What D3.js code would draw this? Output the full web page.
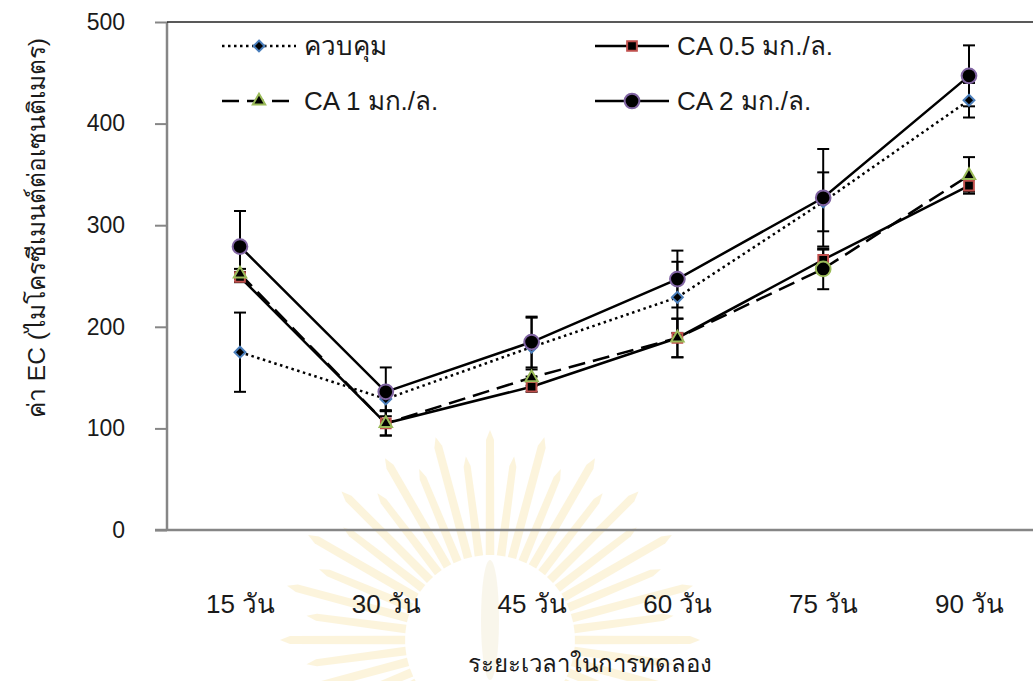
<!DOCTYPE html>
<html>
<head>
<meta charset="utf-8">
<script src="https://cdn.jsdelivr.net/npm/d3@7"></script>
<style>
  body { margin: 0; background: #fff; }
  svg { display: block; }
  text { font-family: "Liberation Sans", Arial, sans-serif; fill: #1a1a1a; }
</style>
</head>
<body>
<svg id="chart" width="1033" height="681"></svg>
<script>
// Sampling days (x categories) and value axis ticks
const days = ["15 วัน", "30 วัน", "45 วัน", "60 วัน", "75 วัน", "90 วัน"];
const yTicks = [0, 100, 200, 300, 400, 500];

// EC means and error-bar half-widths for each treatment
const seriesNames = ["ควบคุม", "CA 0.5 มก./ล.", "CA 1 มก./ล.", "CA 2 มก./ล."];
const controlMean = [175, 129, 180, 229, 323, 423];
const controlErr  = [39, 11, 29, 35, 29, 17];
const ca05Mean    = [249, 105, 141, 189, 266, 339];
const ca05Err     = [5, 12, 5, 19, 10, 6];
const ca1Mean     = [252, 105, 150, 189, 257, 349];
const ca1Err      = [5, 12, 8, 19, 20, 18];
const ca2Mean     = [279, 136, 185, 247, 327, 447];
const ca2Err      = [35, 24, 25, 28, 48, 30];

const svg = d3.select("#chart");

// Plot frame
const plotLeft = 167, plotBottom = 530, plotTop = 22;
const x = d3.scalePoint().domain(days).range([240, 240 + 5 * 145.8]);
const y = d3.scaleLinear().domain([0, 500]).range([plotBottom, plotTop]);

// Faint emblem watermark behind the chart
const wm = svg.append("g").attr("transform", "translate(490,640)").attr("opacity", 0.22);
const rays = d3.range(48);
wm.selectAll("path.ray").data(rays).join("path")
  .attr("class", "ray")
  .attr("d", i => {
    const a = (i / rays.length) * 2 * Math.PI;
    const w = 0.05;
    const r0 = 85, r1 = 200 + (i % 2 ? -25 : 0);
    const p = (r, t) => [r * Math.sin(t), -r * Math.cos(t)];
    const pts = [p(r0, a - w), p(r1, a - w * 0.4), p(r1 + 10, a), p(r1, a + w * 0.4), p(r0, a + w)];
    return d3.line()(pts) + "Z";
  })
  .attr("fill", "#f2cf63");
wm.append("ellipse").attr("cx", 0).attr("cy", -20).attr("rx", 9).attr("ry", 60)
  .attr("fill", "#e8d9a8");

// Series configuration
const series = [
  { name: seriesNames[0], mean: controlMean, err: controlErr, dash: "2.5,3.5",
    marker: () => "diamond", stroke: "#4a7ebb" },
  { name: seriesNames[1], mean: ca05Mean, err: ca05Err, dash: null,
    marker: () => "square", stroke: "#c0504d" },
  { name: seriesNames[2], mean: ca1Mean, err: ca1Err, dash: "17,8",
    marker: i => (i === 4 ? "circle" : "triangle"), stroke: "#9bbb59" },
  { name: seriesNames[3], mean: ca2Mean, err: ca2Err, dash: null,
    marker: () => "circle", stroke: "#8064a2" }
];

const symbolPath = {
  diamond: d3.symbol().type(d3.symbolDiamond2).size(75)(),
  square: d3.symbol().type(d3.symbolSquare2).size(120)(),
  triangle: d3.symbol().type(d3.symbolTriangle2).size(110)(),
  circle: d3.symbol().type(d3.symbolCircle).size(170)()
};

// Axes
const yAxis = svg.append("g").attr("transform", `translate(${plotLeft},0)`)
  .call(d3.axisLeft(y).tickValues(yTicks).tickSize(12).tickPadding(30));
yAxis.select(".domain").attr("stroke", "#868686").attr("stroke-width", 2.5)
  .attr("d", `M0,${plotTop}V${plotBottom}`);
yAxis.selectAll(".tick line").attr("stroke", "#868686").attr("stroke-width", 2);
yAxis.selectAll(".tick text").attr("font-size", 23).attr("fill", "#1a1a1a")
  .attr("font-family", "Liberation Sans, Arial, sans-serif");

// Bottom axis line and top border
svg.append("line").attr("x1", 155).attr("x2", 1033).attr("y1", plotBottom).attr("y2", plotBottom)
  .attr("stroke", "#868686").attr("stroke-width", 2.5);
svg.append("line").attr("x1", plotLeft).attr("x2", 1033).attr("y1", plotTop).attr("y2", plotTop)
  .attr("stroke", "#222").attr("stroke-width", 1.5);

// Category labels
const xAxis = svg.append("g").attr("transform", `translate(0,${plotBottom})`)
  .call(d3.axisBottom(x).tickSize(0).tickPadding(65));
xAxis.select(".domain").remove();
xAxis.selectAll(".tick text").attr("font-size", 26).attr("fill", "#1a1a1a")
  .attr("font-family", "Liberation Sans, Arial, sans-serif");

// Axis titles
svg.append("text").attr("x", 590).attr("y", 672).attr("text-anchor", "middle")
  .attr("font-size", 24).text("ระยะเวลาในการทดลอง");
svg.append("text").attr("transform", "translate(45,228) rotate(-90)")
  .attr("text-anchor", "middle").attr("font-size", 24.5)
  .text("ค่า EC (ไมโครซีเมนต์ต่อเซนติเมตร)");

// Error bars
const eb = svg.append("g");
series.forEach(s => {
  s.mean.forEach((m, i) => {
    const cx = x(days[i]);
    const g = eb.append("g").attr("stroke", "#000").attr("stroke-width", 2);
    g.append("line").attr("x1", cx).attr("x2", cx).attr("y1", y(m - s.err[i])).attr("y2", y(m + s.err[i]));
    [m - s.err[i], m + s.err[i]].forEach(v =>
      g.append("line").attr("x1", cx - 6).attr("x2", cx + 6).attr("y1", y(v)).attr("y2", y(v)));
  });
});

// Lines
const line = d3.line().x((d, i) => x(days[i])).y(d => y(d));
series.forEach(s => {
  svg.append("path").datum(s.mean).attr("d", line)
    .attr("fill", "none").attr("stroke", "#000").attr("stroke-width", 2.5)
    .attr("stroke-dasharray", s.dash);
});

// Markers
series.forEach(s => {
  svg.append("g").selectAll("path").data(s.mean).join("path")
    .attr("transform", (d, i) => `translate(${x(days[i])},${y(d)})`)
    .attr("d", (d, i) => symbolPath[s.marker(i)])
    .attr("fill", "#000").attr("stroke", s.stroke).attr("stroke-width", 2);
});

// Legend
const legendPos = [
  { lx: 222, ly: 46 }, { lx: 595, ly: 46 },
  { lx: 222, ly: 101 }, { lx: 595, ly: 101 }
];
series.forEach((s, k) => {
  const p = legendPos[k];
  const g = svg.append("g").attr("transform", `translate(${p.lx},${p.ly})`);
  g.append("line").attr("x1", 0).attr("x2", 74).attr("y1", 0).attr("y2", 0)
    .attr("stroke", "#000").attr("stroke-width", 2.5).attr("stroke-dasharray", s.dash);
  g.append("path").attr("transform", "translate(37,0)")
    .attr("d", symbolPath[s.marker(0)])
    .attr("fill", "#000").attr("stroke", s.stroke).attr("stroke-width", 2);
  g.append("text").attr("x", 82).attr("y", 0).attr("dy", "0.35em")
    .attr("font-size", 26).text(s.name);
});
</script>
</body>
</html>
